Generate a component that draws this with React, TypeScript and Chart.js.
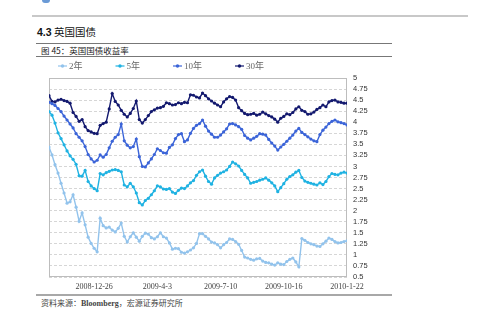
import React, { useEffect, useRef } from "react";
import { Chart, registerables } from "chart.js";

Chart.register(...registerables);

// ---- data ----
const seriesNames = ["2年", "5年", "10年", "30年"];

const xTickIndex = [15, 36, 57, 78, 99];
const xTickLabels = ["2008-12-26", "2009-4-3", "2009-7-10", "2009-10-16", "2010-1-22"];

const yield2 = [
  3.44, 3.26, 3.04, 2.85, 2.62, 2.40, 2.17, 2.20, 2.36, 2.08,
  1.76, 1.95, 1.68, 1.40, 1.26, 1.15, 1.07, 1.83, 1.66, 1.61,
  1.63, 1.56, 1.52, 1.60, 1.72, 1.42, 1.29, 1.41, 1.50, 1.40,
  1.31, 1.42, 1.49, 1.47, 1.39, 1.36, 1.41, 1.50, 1.41, 1.38,
  1.27, 1.13, 1.15, 1.14, 1.06, 1.04, 1.07, 1.11, 1.16, 1.26,
  1.48, 1.48, 1.42, 1.36, 1.29, 1.27, 1.23, 1.16, 1.23, 1.28,
  1.36, 1.35, 1.30, 1.24, 1.10, 0.95, 0.93, 0.90, 0.88, 0.91,
  0.92, 0.86, 0.83, 0.82, 0.79, 0.77, 0.82, 0.79, 0.78, 0.85,
  0.90, 0.93, 0.84, 0.73, 1.37, 1.33, 1.28, 1.25, 1.23, 1.20,
  1.19, 1.25, 1.31, 1.38, 1.35, 1.30, 1.27, 1.28, 1.30, 1.32,
];

const yield5 = [
  4.24, 4.16, 3.98, 3.76, 3.63, 3.49, 3.35, 3.24, 3.16, 3.05,
  2.79, 2.78, 2.91, 2.66, 2.56, 2.50, 2.45, 2.84, 2.81, 2.86,
  2.89, 2.92, 2.93, 2.91, 2.88, 2.58, 2.54, 2.62, 2.54, 2.40,
  2.18, 2.13, 2.23, 2.28, 2.36, 2.45, 2.56, 2.54, 2.49, 2.48,
  2.50, 2.42, 2.39, 2.46, 2.51, 2.50, 2.56, 2.63, 2.68, 2.80,
  2.88, 2.92, 2.78, 2.66, 2.60, 2.74, 2.80, 2.85, 2.88, 2.92,
  3.00, 3.10, 3.06, 3.01, 2.91, 2.82, 2.74, 2.62, 2.64, 2.66,
  2.69, 2.71, 2.74, 2.69, 2.63, 2.56, 2.43, 2.52, 2.61, 2.71,
  2.77, 2.81, 2.87, 2.91, 2.75, 2.67, 2.64, 2.62, 2.60, 2.58,
  2.63, 2.59, 2.66, 2.77, 2.84, 2.82, 2.81, 2.85, 2.87, 2.85,
];

const yield10 = [
  4.45, 4.42, 4.38, 4.31, 4.24, 4.14, 4.05, 3.96, 3.87, 3.74,
  3.66, 3.58, 3.45, 3.27, 3.17, 3.10, 3.14, 3.26, 3.21, 3.27,
  3.42, 3.57, 3.66, 3.72, 3.96, 3.58, 3.48, 3.42, 3.45, 3.62,
  3.22, 3.00, 2.99, 3.08, 3.17, 3.27, 3.40, 3.36, 3.31, 3.30,
  3.43, 3.49, 3.63, 3.72, 3.74, 3.56, 3.60, 3.75, 3.86, 3.93,
  3.97, 4.05, 3.91, 3.80, 3.73, 3.66, 3.66, 3.71, 3.78, 3.85,
  3.96, 3.97, 3.94, 3.90, 3.84, 3.70, 3.64, 3.60, 3.64, 3.68,
  3.74, 3.73, 3.71, 3.61, 3.53, 3.46, 3.37, 3.44, 3.50, 3.57,
  3.64, 3.71, 3.80, 3.86, 3.77, 3.72, 3.67, 3.62, 3.58, 3.56,
  3.72, 3.82, 3.89, 3.97, 4.02, 4.05, 4.01, 3.99, 3.97, 3.94,
];

const yield30 = [
  4.60, 4.47, 4.46, 4.50, 4.52, 4.49, 4.47, 4.43, 4.22, 4.13,
  4.02, 4.06, 3.90, 3.81, 3.78, 3.75, 3.74, 3.93, 3.97, 4.00,
  4.30, 4.65, 4.47, 4.39, 4.27, 4.18, 4.12, 4.20, 4.31, 4.48,
  4.06, 3.98, 4.06, 4.15, 4.24, 4.28, 4.32, 4.33, 4.36, 4.44,
  4.42, 4.39, 4.40, 4.44, 4.42, 4.45, 4.44, 4.62, 4.61, 4.57,
  4.55, 4.66, 4.60, 4.53, 4.48, 4.43, 4.39, 4.35, 4.46, 4.53,
  4.58, 4.56, 4.50, 4.33, 4.26, 4.20, 4.17, 4.18, 4.20, 4.16,
  4.18, 4.23, 4.19, 4.15, 4.12, 4.07, 4.00, 4.09, 4.13, 4.19,
  4.17, 4.22, 4.30, 4.35, 4.27, 4.24, 4.18, 4.19, 4.23, 4.29,
  4.33, 4.39, 4.35, 4.46, 4.49, 4.50, 4.46, 4.45, 4.43, 4.43,
];

const yMin = 0.5;
const yMax = 5;
const yStep = 0.25;

// ---- styles ----
const seriesColors = ["#92c3ec", "#1fb2e2", "#3b64d8", "#12186e"];
const seriesValues = [yield2, yield5, yield10, yield30];

const framePlugin = {
  id: "frame",
  beforeDatasetsDraw(chart: any) {
    const { ctx, chartArea } = chart;
    const { left, top, right, bottom } = chartArea;
    ctx.save();
    ctx.strokeStyle = "#bdbdbd";
    ctx.lineWidth = 1;
    ctx.strokeRect(Math.round(left) + 0.5, Math.round(top) + 0.5, Math.round(right - left) - 1, Math.round(bottom - top) - 1);
    ctx.restore();
  },
};

const legendPlugin = {
  id: "topLegend",
  afterDraw(chart: any) {
    const ctx = chart.ctx;
    ctx.save();
    ctx.font = '9px "Liberation Serif", "Noto Sans CJK SC", serif';
    ctx.textBaseline = "middle";
    let x = 22;
    const y = 6;
    chart.data.datasets.forEach((ds: any) => {
      ctx.strokeStyle = ds.borderColor;
      ctx.lineWidth = 1.2;
      ctx.beginPath();
      ctx.moveTo(x, y);
      ctx.lineTo(x + 9, y);
      ctx.stroke();
      ctx.fillStyle = ds.borderColor;
      ctx.beginPath();
      ctx.arc(x + 4.5, y, 1.7, 0, Math.PI * 2);
      ctx.fill();
      ctx.fillStyle = "#666";
      ctx.fillText(ds.label, x + 11, y + 0.5);
      x += 11 + ctx.measureText(ds.label).width + 33;
    });
    ctx.restore();
  },
};

function YieldChart() {
  const ref = useRef<HTMLCanvasElement | null>(null);
  useEffect(() => {
    if (!ref.current) return;
    const chart = new Chart(ref.current, {
      type: "line",
      data: {
        datasets: seriesNames.map((name, k) => ({
          label: name,
          data: seriesValues[k].map((v, i) => ({ x: i, y: v })),
          borderColor: seriesColors[k],
          backgroundColor: seriesColors[k],
          borderWidth: 1.4,
          pointRadius: 1.6,
          pointBorderWidth: 0,
          pointBackgroundColor: seriesColors[k],
          tension: 0,
          fill: false,
        })),
      },
      options: {
        responsive: false,
        animation: false,
        events: [],
        layout: { padding: { left: 13, top: 18, right: 0, bottom: 0 } },
        plugins: { legend: { display: false }, tooltip: { enabled: false } },
        scales: {
          x: {
            type: "linear",
            min: 0,
            max: seriesValues[0].length - 1,
            grid: { display: false, drawTicks: false },
            border: { display: false },
            afterBuildTicks: (s: any) => {
              s.ticks = xTickIndex.map((v) => ({ value: v }));
            },
            afterFit: (s: any) => {
              s.height = 15;
            },
            ticks: {
              autoSkip: false,
              maxRotation: 0,
              padding: 5,
              color: "#444",
              font: { family: '"Liberation Serif", serif', size: 8 },
              callback: (v: any) => {
                const k = xTickIndex.indexOf(Number(v));
                return k >= 0 ? xTickLabels[k] : "";
              },
            },
          },
          y: {
            position: "right",
            min: yMin,
            max: yMax,
            grid: { color: "#d6d6d6", lineWidth: 1, drawTicks: false },
            border: { display: false, dash: [3, 2] },
            afterFit: (s: any) => {
              s.width = 45;
            },
            ticks: {
              stepSize: yStep,
              autoSkip: false,
              padding: 6,
              color: "#333",
              font: { family: '"Liberation Sans", sans-serif', size: 7.5 },
              callback: (v: any) => String(v),
            },
          },
        },
      },
      plugins: [framePlugin, legendPlugin],
    });
    return () => chart.destroy();
  }, []);
  return <canvas ref={ref} width={356} height={232} style={{ display: "block" }} />;
}

const cjk = '"Noto Sans CJK SC", "Liberation Sans", sans-serif';

export default function App() {
  return (
    <div style={{ position: "absolute", left: 0, top: 0, width: 500, height: 313, background: "#fff", overflow: "hidden" }}>
      <div style={{ position: "absolute", left: 42, top: 0, width: 8, height: 3, background: "#6a9ad6", borderRadius: "0 0 3px 3px" }} />
      <div style={{ position: "absolute", left: 32, top: 15, width: 436, height: 2, background: "#c8c8c8" }} />
      <div style={{ position: "absolute", left: 37, top: 24, fontFamily: cjk, fontSize: 10.5, lineHeight: "15px", color: "#111", whiteSpace: "nowrap" }}>
        <b style={{ fontFamily: '"Liberation Sans", sans-serif' }}>4.3</b> 英国国债
      </div>
      <div style={{ position: "absolute", left: 36, top: 43, width: 356, height: 1, background: "#777" }} />
      <div style={{ position: "absolute", left: 41, top: 44, fontFamily: cjk, fontSize: 8.5, lineHeight: "12px", color: "#222", whiteSpace: "nowrap" }}>
        图 45：英国国债收益率
      </div>
      <div style={{ position: "absolute", left: 36, top: 56, width: 356, height: 1, background: "#777" }} />
      <div style={{ position: "absolute", left: 36, top: 60, width: 356, height: 232 }}>
        <YieldChart />
      </div>
      <div style={{ position: "absolute", left: 36, top: 294, width: 356, height: 2, background: "#a8a8a8" }} />
      <div style={{ position: "absolute", left: 41, top: 297, fontFamily: cjk, fontSize: 8, lineHeight: "11px", color: "#444", whiteSpace: "nowrap" }}>
        资料来源：<b style={{ fontFamily: '"Liberation Serif", serif' }}>Bloomberg</b>，宏源证券研究所
      </div>
    </div>
  );
}
